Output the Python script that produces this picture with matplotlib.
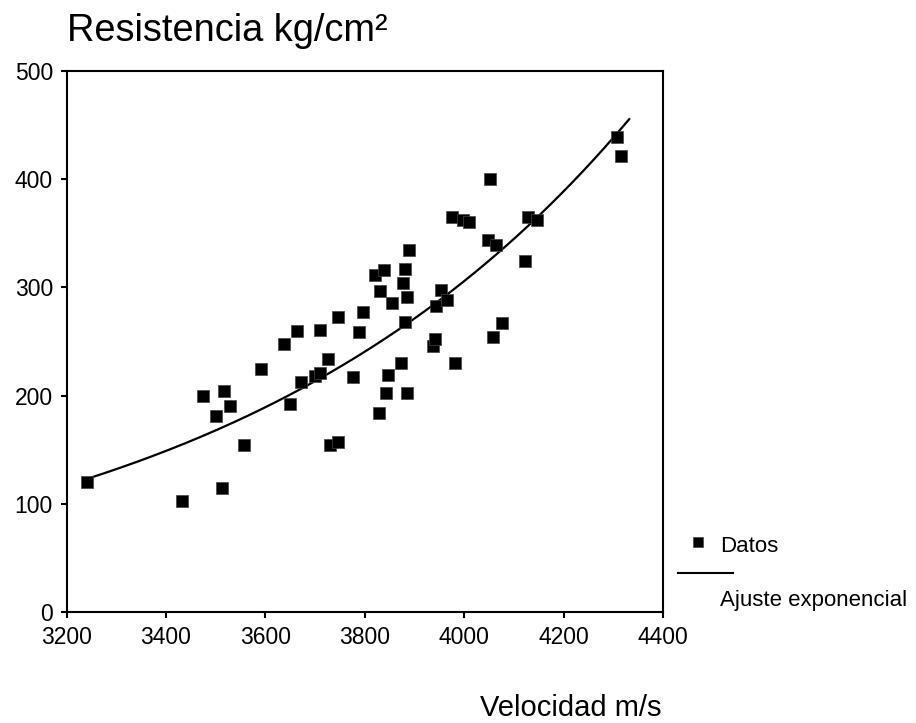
import numpy as np
import matplotlib.pyplot as plt
from matplotlib.lines import Line2D

plt.rcParams['font.family'] = ['Liberation Sans', 'DejaVu Sans']

# velocidad (m/s) y resistencia (kg/cm²)
velocidad = [3241, 3433, 3475, 3500, 3513, 3516, 3529, 3558, 3592, 3638,
             3650, 3663, 3671, 3700, 3709, 3709, 3726, 3730, 3747, 3747,
             3776, 3788, 3797, 3820, 3829, 3831, 3839, 3843, 3847, 3855,
             3872, 3876, 3881, 3881, 3884, 3884, 3889, 3938, 3941, 3943,
             3954, 3965, 3976, 3981, 3998, 4010, 4047, 4052, 4057, 4064,
             4077, 4122, 4129, 4146, 4307, 4316]
resistencia = [120, 103, 200, 181, 115, 204, 190, 154, 225, 248,
               192, 260, 213, 218, 221, 261, 234, 154, 157, 273,
               217, 259, 277, 311, 184, 297, 316, 202, 219, 286,
               230, 304, 268, 317, 202, 291, 335, 246, 252, 283,
               298, 288, 365, 230, 362, 360, 344, 400, 254, 339,
               267, 324, 365, 362, 439, 421]

# ajuste exponencial y = a*exp(b*(x - x0))
x0, a, b = 3241, 123.0, 0.0012
x_fin = 4332

W, H = 916, 723
fig = plt.figure(figsize=(W / 100, H / 100), dpi=100)
ax = fig.add_axes([66.5 / W, 1 - 612 / H, (663 - 66.5) / W, (612 - 71) / H])

xf = np.linspace(x0, x_fin, 200)
ax.plot(xf, a * np.exp(b * (xf - x0)), '-', color='black', lw=1.6)
ax.plot(velocidad, resistencia, 's', color='black', ms=8.6,
        markeredgecolor='#444444', markeredgewidth=0.5)

ax.set_xlim(3200, 4400)
ax.set_ylim(0, 500)
ax.set_xticks(range(3200, 4401, 200))
ax.set_yticks(range(0, 501, 100))
ax.tick_params(direction='out', length=4.3, width=1.5, labelsize=16.5, pad=5.5)
for s in ax.spines.values():
    s.set_linewidth(1.5)

fig.text(67 / W, 1 - 41 / H, 'Resistencia kg/cm²', fontsize=27.4,
         ha='left', va='baseline')
fig.text(662 / W, 1 - 716 / H, 'Velocidad m/s', fontsize=21,
         ha='right', va='baseline')

# leyenda
fig.add_artist(Line2D([698 / W], [1 - 542 / H], marker='s', color='black',
                      ms=7.9, markeredgecolor='#444444', markeredgewidth=0.5,
                      transform=fig.transFigure))
fig.text(720 / W, 1 - 552 / H, 'Datos', fontsize=16, ha='left', va='baseline')
fig.add_artist(Line2D([678 / W, 733 / W], [1 - 573.3 / H, 1 - 573.3 / H],
                      color='black', lw=1.5, transform=fig.transFigure))
fig.text(720 / W, 1 - 605.7 / H, 'Ajuste exponencial', fontsize=16,
         ha='left', va='baseline')

fig.savefig('out.png', dpi=100)
